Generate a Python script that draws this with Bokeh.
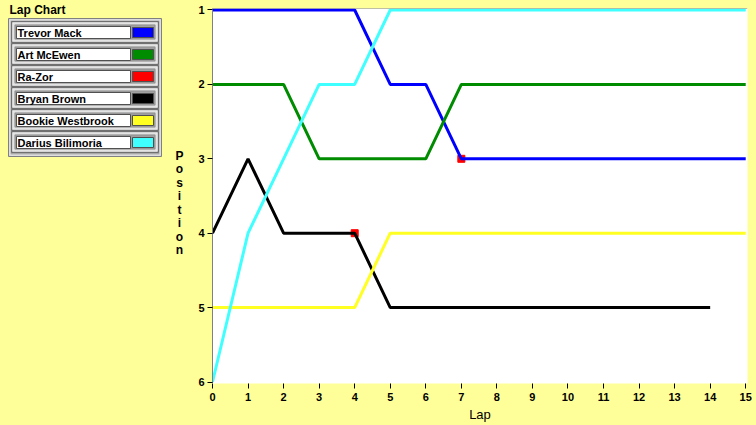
from bokeh.plotting import figure
from bokeh.layouts import row
from bokeh.models import Range1d, FixedTicker, Span
from bokeh.core.properties import value
from bokeh.embed import file_html
from bokeh.resources import INLINE

# ---------------- data ----------------
chart_title = "Lap Chart"
x_label = "Lap"
y_label = "Position"
names = ["Trevor Mack", "Art McEwen", "Ra-Zor", "Bryan Brown", "Bookie Westbrook", "Darius Bilimoria"]
colors = ["#0000FF", "#008C00", "#FF0000", "#000000", "#FFFF22", "#40FFFF"]
laps = list(range(16))
pos_trevor = [1, 1, 1, 1, 1, 2, 2, 3, 3, 3, 3, 3, 3, 3, 3, 3]
pos_art = [2, 2, 2, 3, 3, 3, 3, 2, 2, 2, 2, 2, 2, 2, 2, 2]
razor_laps = [4, 7]
razor_pos = [4, 3]
pos_bryan = [4, 3, 4, 4, 4, 5, 5, 5, 5, 5, 5, 5, 5, 5, 5]
pos_bookie = [5, 5, 5, 5, 5, 4, 4, 4, 4, 4, 4, 4, 4, 4, 4, 4]
pos_darius = [6, 4, 3, 2, 2, 1, 1, 1, 1, 1, 1, 1, 1, 1, 1, 1]
y_ticks = [1, 2, 3, 4, 5, 6]

BG = "#FFFF99"
FONT = value("Liberation Sans")
W, H = 756, 425
LW = 188

# ---------------- legend panel (pixel space) ----------------
lg = figure(width=LW, height=H, x_range=Range1d(0, LW), y_range=Range1d(H, 0),
            x_axis_type=None, y_axis_type=None, toolbar_location=None,
            output_backend="svg", min_border=0, min_border_left=0, min_border_right=0,
            min_border_top=0, min_border_bottom=0, frame_align=False)
lg.background_fill_color = BG
lg.border_fill_color = BG
lg.outline_line_color = None
lg.grid.visible = False

lg.text(x=[9], y=[9.5], text=[chart_title], text_font=FONT, text_font_style="bold",
        text_font_size="12px", text_baseline="middle", text_align="left", text_color="#000000")

# outer bevelled panel
lg.quad(left=[8], right=[161], top=[18], bottom=[156], fill_color="#D4D4D4",
        line_color="#808080", line_width=1)
lg.quad(left=[9.5], right=[159.5], top=[19.5], bottom=[154.5], fill_color="#A8A8A8",
        line_color="#E8E8E8", line_width=1)

row_h = 22
for i, (nm, col) in enumerate(zip(names, colors)):
    t = 21 + row_h * i
    b = t + 21
    lg.quad(left=[11], right=[158], top=[t], bottom=[b], fill_color="#B8B8B8",
            line_color="#707070", line_width=1)
    lg.quad(left=[12.5], right=[156.5], top=[t + 1.5], bottom=[b - 1.5], fill_color="#D6D6D6",
            line_color="#F0F0F0", line_width=1)
    lg.quad(left=[14.5], right=[154.5], top=[t + 3.5], bottom=[b - 3.5], fill_color="#A0A0A0",
            line_color="#909090", line_width=1)
    lg.quad(left=[16], right=[130], top=[t + 5], bottom=[t + 17], fill_color="#FFFFFF",
            line_color="#505050", line_width=1)
    lg.quad(left=[132], right=[153], top=[t + 6], bottom=[t + 16], fill_color=col,
            line_color="#505050", line_width=1)
    lg.text(x=[17], y=[t + 11], text=[nm], text_font=FONT, text_font_style="bold",
            text_font_size="11px", text_baseline="middle", text_align="left", text_color="#000000")

# vertical "Position" axis title, one letter per line
letters = list(y_label)
lg.text(x=[179] * len(letters), y=[155 + 13.5 * k for k in range(len(letters))], text=letters,
        text_font=FONT, text_font_style="bold", text_font_size="12px",
        text_baseline="middle", text_align="center", text_color="#000000")

# ---------------- main chart ----------------
p = figure(width=W - LW, height=H, x_range=Range1d(0, 15.05), y_range=Range1d(6.02, 0.98),
           toolbar_location=None, output_backend="svg", frame_align=False,
           min_border_left=24, min_border_right=9, min_border_top=8, min_border_bottom=42)
p.background_fill_color = "#FFFFFF"
p.border_fill_color = BG
p.outline_line_color = None
p.grid.visible = False

p.add_layout(Span(location=0.98, dimension="width", line_color="#808080", line_width=1))

p.scatter(razor_laps, razor_pos, marker="square", size=7, fill_color=colors[2],
          line_color=colors[2])
series = [(pos_trevor, colors[0]), (pos_art, colors[1]), (pos_bryan, colors[3]),
          (pos_bookie, colors[4]), (pos_darius, colors[5])]
for pos, col in series:
    p.line(laps[:len(pos)], pos, line_color=col, line_width=3)

xa = p.xaxis[0]
xa.ticker = FixedTicker(ticks=laps)
xa.minor_tick_line_color = None
xa.axis_line_color = None
xa.major_tick_in = 0
xa.major_tick_out = 5
xa.major_tick_line_color = "#000000"
xa.major_label_text_font = "Liberation Sans"
xa.major_label_text_font_style = "bold"
xa.major_label_text_font_size = "11px"
xa.major_label_text_color = "#000000"
xa.major_label_standoff = 4
xa.axis_label = x_label
xa.axis_label_text_font = "Liberation Sans"
xa.axis_label_text_font_style = "normal"
xa.axis_label_text_font_size = "13px"
xa.axis_label_text_color = "#000000"
xa.axis_label_standoff = 3

ya = p.yaxis[0]
ya.ticker = FixedTicker(ticks=y_ticks)
ya.minor_tick_line_color = None
ya.axis_line_color = "#808080"
ya.major_tick_in = 0
ya.major_tick_out = 5
ya.major_tick_line_color = "#000000"
ya.major_label_text_font = "Liberation Sans"
ya.major_label_text_font_style = "bold"
ya.major_label_text_font_size = "11px"
ya.major_label_text_color = "#000000"
ya.major_label_standoff = 3

layout = row(lg, p, spacing=0, styles={"background-color": BG})
open("out.html", "w").write(file_html(layout, INLINE))
